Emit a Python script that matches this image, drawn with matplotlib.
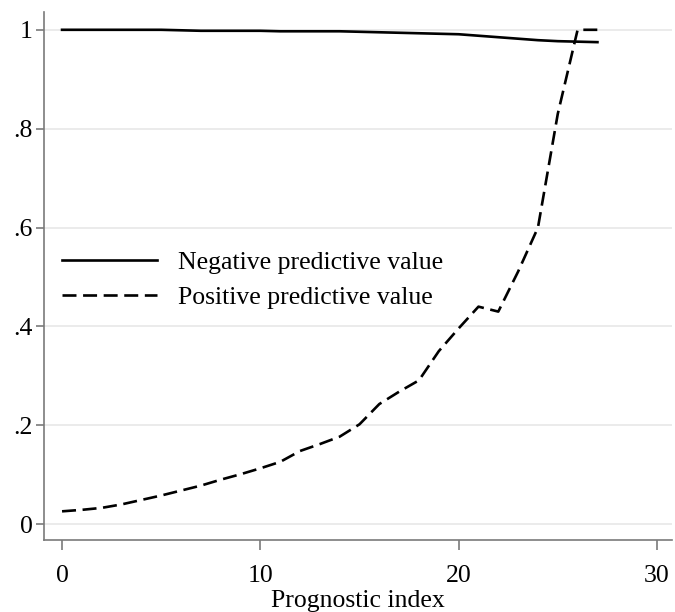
import matplotlib
matplotlib.use("Agg")
import matplotlib.pyplot as plt
import numpy as np

# Data
prognostic_index = list(range(0, 28))
npv = [1.000, 1.000, 1.000, 1.000, 1.000, 1.000, 0.999, 0.998, 0.998, 0.998,
       0.998, 0.997, 0.997, 0.997, 0.997, 0.996, 0.995, 0.994, 0.993, 0.992,
       0.991, 0.988, 0.985, 0.982, 0.979, 0.977, 0.976, 0.975]
ppv = [0.026, 0.029, 0.033, 0.040, 0.049, 0.058, 0.068, 0.078, 0.090, 0.101,
       0.113, 0.126, 0.148, 0.162, 0.177, 0.202, 0.243, 0.268, 0.291, 0.350,
       0.396, 0.440, 0.430, 0.511, 0.600, 0.830, 1.000, 1.000]
xticks = [0, 10, 20, 30]
yticks = [0, 0.2, 0.4, 0.6, 0.8, 1.0]
ytick_labels = ["0", ".2", ".4", ".6", ".8", "1"]
series_labels = ["Negative predictive value", "Positive predictive value"]
xlabel = "Prognostic index"

plt.rcParams['font.family'] = ['Liberation Serif', 'DejaVu Serif']
FS = 18.5
LW = 1.9

fig = plt.figure(figsize=(6.75, 6.12), dpi=100)
ax = fig.add_axes([44/675, 1-540/612, 628/675, 528/612])

ax.plot(prognostic_index, npv, color='black', lw=LW, solid_joinstyle='round',
        label=series_labels[0])
ax.plot(prognostic_index, ppv, color='black', lw=LW, linestyle=(0, (5.3, 2.5)),
        label=series_labels[1])

ax.set_xlim(-0.91, 30.76)
ax.set_ylim(-0.032, 1.036)
ax.set_xticks(xticks)
ax.set_xticklabels([str(t) for t in xticks])
ax.set_yticks(yticks)
ax.set_yticklabels(ytick_labels)

ax.yaxis.grid(True, color='#e8e8e8', lw=1.2)
ax.set_axisbelow(True)
for s in ['top', 'right']:
    ax.spines[s].set_visible(False)
for s in ['left', 'bottom']:
    ax.spines[s].set_color('#7a7a7a')
    ax.spines[s].set_linewidth(1.2)
ax.tick_params(axis='x', which='major', direction='out', length=7,
               width=1.2, color='#7a7a7a', labelsize=FS, pad=11)
ax.tick_params(axis='y', which='major', direction='out', length=6,
               width=1.2, color='#7a7a7a', labelsize=FS, pad=2)

ax.set_xlabel(xlabel, fontsize=FS, labelpad=2)

leg = ax.legend(loc='center left', bbox_to_anchor=(18/628, (540-280)/528),
                frameon=False, fontsize=FS, handlelength=3.7,
                handletextpad=0.8, labelspacing=0.5, borderpad=0,
                borderaxespad=0)

fig.savefig('out.png', dpi=100)
